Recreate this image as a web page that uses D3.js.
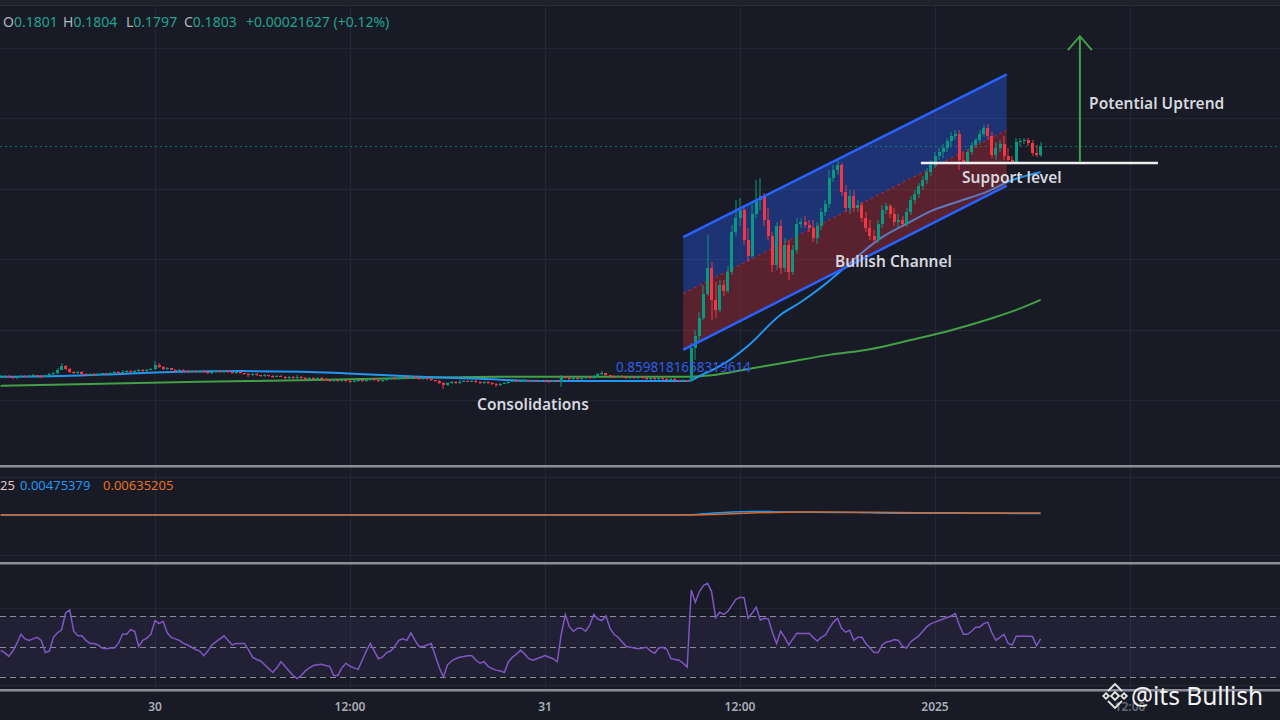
<!DOCTYPE html>
<html><head><meta charset="utf-8">
<script src="https://cdn.jsdelivr.net/npm/d3@7"></script>
<style>html,body{margin:0;padding:0;background:#181a25;}svg{display:block}</style>
</head><body>
<svg id="c" width="1280" height="720"></svg>
<script>
// ---------- DATA (prices in units of 0.0001) ----------
const barStart = Date.UTC(2024, 11, 29, 14, 30);   // first 15-minute bar
const barMinutes = 15;

const opens = [
1532,1533,1534,1533,1531,1533,1534,1533,1534,1535,
1534,1533,1535,1537,1538,1543,1548,1544,1540,1538,
1540,1537,1535,1537,1535,1537,1538,1537,1538,1540,
1538,1540,1541,1540,1541,1543,1541,1543,1544,1550,
1547,1544,1545,1543,1541,1543,1541,1540,1541,1540,
1541,1540,1538,1540,1541,1540,1541,1540,1538,1540,
1538,1537,1535,1537,1535,1534,1535,1534,1533,1534,
1533,1531,1533,1531,1533,1531,1530,1531,1530,1531,
1530,1528,1527,1528,1527,1528,1527,1526,1527,1528,
1527,1528,1530,1528,1527,1528,1530,1531,1530,1531,
1533,1531,1533,1531,1530,1531,1530,1528,1527,1524,
1521,1524,1526,1524,1526,1527,1526,1527,1526,1524,
1526,1524,1523,1521,1523,1524,1526,1527,1526,1527,
1528,1527,1528,1527,1528,1527,1526,1527,1526,1533,
1531,1530,1531,1530,1531,1533,1531,1534,1537,1538,
1535,1534,1533,1534,1533,1531,1533,1531,1533,1531,
1530,1531,1530,1531,1530,1528,1530,1528,1527,1528,
1527,1574,1591,1616,1650,1687,1642,1628,1663,1655,
1682,1738,1758,1769,1727,1704,1764,1784,1789,1755,
1733,1691,1747,1687,1720,1682,1713,1750,1752,1748,
1744,1730,1747,1767,1778,1815,1826,1833,1795,1772,
1789,1772,1777,1758,1744,1733,1727,1750,1769,1775,
1764,1752,1755,1750,1767,1784,1792,1804,1812,1823,
1833,1846,1852,1857,1867,1874,1877,1840,1838,1852,
1862,1869,1877,1886,1874,1848,1857,1863,1846,1840,
1838,1866,1867,1869,1865,1850,1848];

const highs = [
1535,1535,1535,1534,1534,1536,1535,1535,1537,1536,
1535,1536,1538,1540,1545,1552,1549,1545,1541,1541,
1541,1538,1538,1538,1539,1539,1539,1540,1541,1541,
1542,1542,1542,1543,1544,1544,1544,1546,1555,1552,
1548,1547,1546,1544,1544,1544,1542,1542,1542,1543,
1542,1541,1541,1543,1542,1542,1542,1541,1541,1541,
1539,1538,1538,1538,1536,1537,1536,1535,1535,1535,
1534,1534,1534,1535,1534,1532,1533,1532,1532,1532,
1531,1529,1530,1529,1529,1529,1528,1528,1530,1529,
1529,1531,1531,1529,1529,1531,1533,1532,1532,1534,
1534,1535,1534,1532,1532,1532,1531,1529,1528,1525,
1525,1527,1527,1528,1528,1528,1528,1528,1527,1527,
1527,1525,1524,1524,1526,1527,1528,1528,1529,1530,
1529,1529,1529,1529,1529,1528,1528,1528,1535,1534,
1532,1533,1532,1532,1534,1534,1535,1539,1541,1539,
1536,1535,1535,1535,1534,1534,1534,1534,1534,1532,
1533,1532,1532,1532,1531,1531,1531,1529,1530,1529,
1581,1599,1625,1663,1734,1696,1667,1670,1670,1690,
1748,1784,1787,1777,1744,1777,1812,1815,1794,1772,
1738,1752,1755,1730,1727,1720,1758,1758,1761,1755,
1755,1752,1772,1784,1826,1833,1840,1836,1805,1798,
1798,1784,1781,1767,1755,1741,1755,1777,1779,1778,
1772,1764,1761,1772,1789,1798,1808,1818,1829,1840,
1852,1857,1863,1872,1880,1883,1883,1852,1855,1866,
1872,1883,1890,1891,1880,1866,1869,1874,1857,1846,
1872,1872,1872,1872,1869,1862,1866];

const lows = [
1531,1532,1532,1530,1530,1532,1532,1532,1533,1533,
1531,1532,1534,1536,1537,1542,1542,1539,1537,1537,
1536,1534,1534,1534,1534,1536,1536,1536,1537,1537,
1537,1539,1539,1539,1540,1540,1540,1542,1543,1546,
1543,1543,1542,1540,1540,1540,1539,1539,1539,1539,
1538,1537,1537,1539,1539,1539,1538,1537,1537,1537,
1535,1533,1534,1534,1533,1533,1533,1531,1532,1532,
1530,1530,1530,1530,1530,1528,1529,1529,1529,1528,
1527,1525,1526,1526,1526,1525,1524,1525,1526,1526,
1526,1527,1527,1525,1526,1527,1529,1529,1529,1530,
1530,1530,1530,1528,1529,1529,1527,1525,1522,1516,
1520,1523,1523,1523,1525,1525,1525,1524,1522,1523,
1523,1521,1519,1520,1522,1523,1525,1525,1525,1526,
1526,1526,1525,1526,1526,1524,1525,1525,1518,1530,
1529,1529,1529,1529,1530,1530,1530,1533,1536,1534,
1533,1531,1532,1532,1530,1530,1530,1530,1530,1528,
1529,1529,1529,1528,1527,1527,1527,1525,1526,1525,
1526,1557,1582,1613,1648,1613,1616,1625,1648,1652,
1677,1733,1747,1720,1696,1701,1758,1769,1747,1727,
1682,1684,1679,1682,1670,1677,1707,1744,1744,1738,
1724,1721,1741,1761,1772,1809,1819,1789,1767,1764,
1767,1767,1752,1738,1727,1721,1723,1744,1764,1758,
1747,1744,1745,1745,1762,1778,1787,1798,1806,1818,
1829,1840,1843,1852,1860,1869,1826,1835,1833,1848,
1857,1865,1873,1869,1843,1840,1852,1840,1836,1835,
1835,1860,1863,1860,1846,1845,1845];

const closes = [
1533,1534,1533,1531,1533,1534,1533,1534,1535,1534,
1533,1535,1537,1538,1543,1548,1544,1540,1538,1540,
1537,1535,1537,1535,1537,1538,1537,1538,1540,1538,
1540,1541,1540,1541,1543,1541,1543,1544,1550,1547,
1544,1545,1543,1541,1543,1541,1540,1541,1540,1541,
1540,1538,1540,1541,1540,1541,1540,1538,1540,1538,
1537,1535,1537,1535,1534,1535,1534,1533,1534,1533,
1531,1533,1531,1533,1531,1530,1531,1530,1531,1530,
1528,1527,1528,1527,1528,1527,1526,1527,1528,1527,
1528,1530,1528,1527,1528,1530,1531,1530,1531,1533,
1531,1533,1531,1530,1531,1530,1528,1527,1524,1521,
1524,1526,1524,1526,1527,1526,1527,1526,1524,1526,
1524,1523,1521,1523,1524,1526,1527,1526,1527,1528,
1527,1528,1527,1528,1527,1526,1527,1526,1533,1531,
1530,1531,1530,1531,1533,1531,1534,1537,1538,1535,
1534,1533,1534,1533,1531,1533,1531,1533,1531,1530,
1531,1530,1531,1530,1528,1530,1528,1527,1528,1527,
1574,1591,1616,1650,1687,1642,1628,1663,1655,1682,
1738,1758,1769,1727,1704,1764,1784,1789,1755,1733,
1691,1747,1687,1720,1682,1713,1750,1752,1748,1744,
1730,1747,1767,1778,1815,1826,1833,1795,1772,1789,
1772,1777,1758,1744,1733,1727,1750,1769,1775,1764,
1752,1755,1750,1767,1784,1792,1804,1812,1823,1833,
1846,1852,1857,1867,1874,1877,1840,1838,1852,1862,
1869,1877,1886,1874,1848,1857,1863,1846,1840,1838,
1866,1867,1869,1865,1850,1848,1860];

// moving averages: [bar index, price]
const fastMA = [[0,1533],[15,1534],[30,1537],[44,1540],[59,1541],[74,1540],[88,1537],[103,1533],[118,1530],[133,1527],[148,1527],[162,1527],[169,1527],[170,1528],[172,1534],[176,1545],[179,1555],[184,1577],[192,1621],[197,1639],[202,1660],[207,1684],[212,1709],[217,1731],[223,1750],[229,1768],[236,1782],[243,1796],[249,1812],[253,1819],[256,1823]];
const slowMA = [[0,1520],[25,1523],[49,1526],[74,1528],[98,1531],[123,1533],[148,1533],[170,1533],[175,1535],[184,1544],[194,1554],[204,1564],[214,1572],[224,1585],[234,1599],[244,1616],[251,1630],[256,1642]];

// RSI per bar
const rsi = [
47.5,46,43.5,47,52,58,55,54,55,56,54,46,47,56,59,61,72,74,60,57,
57,54,52,52,51,49,48.5,49,49,52,58,58,61,60,50,54,55.5,58,67,65,
66.5,59,56,55,54,52,51,49.5,48,47,44,47,51,53,55,57,54,51,52,52,
52,48,43,41.5,40.5,38,35.5,33,36,40,37,34,31,29,31,34,36,37.5,38,38.4,
37.5,37,31,31,36,39,37,36,35,41,47,52,47,42,43,46,47,50,54,55,
54,59,54,50,50,51,52,44,36,30,38,40.5,42,43,43.5,44,44,41,39,40,
37,35.5,34.5,34,33,40,43,45,47.6,45,42,41,42,43,44,43,42,40,58,71,
63,60,62,62,60,64,71,68,67,70,62,58,56,53,50,49.5,49,48.5,49,49.5,
47,45.6,49,49.5,48,42,41.5,41,39,36.5,87,79,86,90,91.5,86,69,72.5,71,73,
77,81,82.3,82,68.5,72,75.8,67.2,68.5,68,59,52,60,56,51,55,58.7,58.5,58.5,58.7,
56,53.6,56,57.4,62,66,68.5,62,59.4,60.7,54,56,56,52,49,46,46,51,53,53.5,
54.5,54,50,49,53,55,57,60,63,65,66,67,68,69,70,71.5,64,58,58,60,
62.7,62.7,65,66,59,54,56,58,52,51,56.7,56.7,56.7,56.7,56.5,50.5,55];
const rsiLevels = [70, 50, 30];

// MACD (read as samples at bar indices)
const macdIdx  = [0,20,40,60,80,100,120,140,160,170,175,180,185,190,200,210,220,230,240,250,256];
const macdLine = [0.0001,0.0003,0.0004,0.0001,-0.0003,-0.0004,-0.0002,0.0001,0.0001,0.0010,0.0060,0.0100,0.0115,0.0110,0.0090,0.0080,0.0060,0.0060,0.0060,0.0050,0.00475379];
const signalLine = [0.0001,0.0002,0.0003,0.0002,-0.0001,-0.0003,-0.0003,0.0000,0.0001,0.0003,0.0015,0.0040,0.0065,0.0085,0.0095,0.0090,0.0080,0.0072,0.0068,0.0065,0.00635205];

// axes / grid
const priceGrid = [1500,1600,1700,1800,1900,2000];
const timeTickLabels = ["30","12:00","31","12:00","2025","12:00"];

// drawings
const channelTimes = [Date.UTC(2024,11,31,8,30), Date.UTC(2025,0,1,4,25)];
const channelUpper = [1731, 1962];
const channelLower = [1571, 1804];
const supportTimes = [Date.UTC(2024,11,31,23,8), Date.UTC(2025,0,1,13,43)];
const supportLevel = 1836;
const arrowTime = Date.UTC(2025,0,1,8,55);
const arrowPrices = [1838, 2016];
const annotations = [
  {text:"Potential Uptrend", t:Date.UTC(2025,0,1,9,29), p:1920, kind:"note"},
  {text:"Support level", t:Date.UTC(2025,0,1,1,40), p:1815, kind:"note"},
  {text:"Bullish Channel", t:Date.UTC(2024,11,31,17,51), p:1697, kind:"note"},
  {text:"Consolidations", t:Date.UTC(2024,11,30,19,49), p:1494, kind:"note"},
  {text:"0.8598181658319614", t:Date.UTC(2024,11,31,4,22), p:1547, kind:"value"}
];
const header = [["O","0.1801",3],["H","0.1804",63],["L","0.1797",126],["C","0.1803",184],["","+0.00021627 (+0.12%)",246]];

// ---------- DRAW ----------
const W = 1280, H = 720;
const svg = d3.select("#c");
const FONT = "'Noto Sans', 'Open Sans', sans-serif";
const barTime = i => new Date(barStart + i * barMinutes * 60000);

const x = d3.scaleUtc().domain([new Date(Date.UTC(2024,11,30)), new Date(Date.UTC(2025,0,1))]).range([155, 935]);
const y = d3.scaleLinear().domain([1500, 2000]).range([400, 47.5]);
const rsiY = d3.scaleLinear().domain([30, 70]).range([677, 616]);
const macdY = d3.scaleLinear().domain([-0.15, 0.15]).range([561, 469]);

svg.append("rect").attr("width", W).attr("height", H).attr("fill", "#181a25");
svg.append("rect").attr("width", W).attr("height", 5).attr("fill", "#1f222d");
svg.append("line").attr("x1",0).attr("x2",W).attr("y1",5.5).attr("y2",5.5).attr("stroke","#2a2d38");

const gridColor = "#232633";
const timeTicks = d3.utcHour.every(12).range(new Date(Date.UTC(2024,11,30)), new Date(Date.UTC(2025,0,1,13)));
const panes = [[6,465],[467,562],[564,689]];
const grid = svg.append("g");
panes.forEach(([a,b]) => {
  grid.selectAll(null).data(timeTicks).enter().append("line")
    .attr("x1", d => Math.round(x(d)) + 0.5).attr("x2", d => Math.round(x(d)) + 0.5)
    .attr("y1", a).attr("y2", b).attr("stroke", gridColor);
});
grid.selectAll(null).data(priceGrid).enter().append("line")
  .attr("x1", 0).attr("x2", W).attr("y1", d => Math.round(y(d)) + 0.5).attr("y2", d => Math.round(y(d)) + 0.5)
  .attr("stroke", gridColor);
[477, 555, 608, 685].forEach(v => grid.append("line").attr("x1",0).attr("x2",W).attr("y1",v+0.5).attr("y2",v+0.5).attr("stroke",gridColor));

// main pane
const main = svg.append("g");
svg.append("clipPath").attr("id","mainClip").append("rect").attr("x",0).attr("y",6).attr("width",W).attr("height",459);
main.attr("clip-path","url(#mainClip)");

const maLine = d3.line().x(d => x(barTime(d[0]))).y(d => y(d[1])).curve(d3.curveMonotoneX);
main.append("path").attr("d", maLine(slowMA)).attr("fill","none").attr("stroke","#43a047").attr("stroke-width",2);
main.append("path").attr("d", maLine(fastMA)).attr("fill","none").attr("stroke","#2196f3").attr("stroke-width",2);

// channel
const cx1 = x(new Date(channelTimes[0])), cx2 = x(new Date(channelTimes[1]));
const mid = [(channelUpper[0]+channelLower[0])/2, (channelUpper[1]+channelLower[1])/2];
main.append("path").attr("d", `M${cx1},${y(channelUpper[0])}L${cx2},${y(channelUpper[1])}L${cx2},${y(mid[1])}L${cx1},${y(mid[0])}Z`)
  .attr("fill","rgba(41,98,255,0.36)");
main.append("path").attr("d", `M${cx1},${y(mid[0])}L${cx2},${y(mid[1])}L${cx2},${y(channelLower[1])}L${cx1},${y(channelLower[0])}Z`)
  .attr("fill","rgba(242,54,69,0.3)");
main.append("line").attr("x1",cx1).attr("y1",y(mid[0])).attr("x2",cx2).attr("y2",y(mid[1]))
  .attr("stroke","#f23645").attr("stroke-opacity",0.6).attr("stroke-dasharray","3,3");

// last price line
const lastY = Math.round(y(closes[closes.length-1])) + 0.5;
main.append("line").attr("x1",0).attr("x2",W).attr("y1",lastY).attr("y2",lastY)
  .attr("stroke","#089981").attr("stroke-opacity",0.7).attr("stroke-dasharray","2,3");

// candles
const up = "#089981", down = "#f23645";
const cg = main.append("g");
closes.forEach((c, i) => {
  const o = opens[i], h = highs[i], l = lows[i];
  const cx = x(barTime(i));
  const col = c >= o ? up : down;
  const yh = Math.round(y(h)), yl = Math.round(y(l));
  cg.append("rect").attr("x", Math.round(cx) - 0.5).attr("y", yh).attr("width", 1).attr("height", Math.max(1, yl - yh)).attr("fill", col);
  const yt = Math.round(y(Math.max(o, c))), yb = Math.round(y(Math.min(o, c)));
  cg.append("rect").attr("x", Math.round(cx - 1.5)).attr("y", yt).attr("width", 3).attr("height", Math.max(1, yb - yt)).attr("fill", col);
});

// channel borders
main.append("line").attr("x1",cx1).attr("y1",y(channelUpper[0])).attr("x2",cx2).attr("y2",y(channelUpper[1]))
  .attr("stroke","#2962ff").attr("stroke-width",2.5);
main.append("line").attr("x1",cx1).attr("y1",y(channelLower[0])).attr("x2",cx2).attr("y2",y(channelLower[1]))
  .attr("stroke","#2962ff").attr("stroke-width",2.5);

// support level
main.append("line").attr("x1", x(new Date(supportTimes[0]))).attr("x2", x(new Date(supportTimes[1])))
  .attr("y1", y(supportLevel)).attr("y2", y(supportLevel)).attr("stroke","#eeeeee").attr("stroke-width",2.5);

// arrow
const ax = x(new Date(arrowTime)), ay0 = y(arrowPrices[0]), ay1 = y(arrowPrices[1]);
main.append("line").attr("x1",ax).attr("x2",ax).attr("y1",ay0).attr("y2",ay1).attr("stroke","#43a047").attr("stroke-width",2);
main.append("path").attr("d",`M${ax-12},${ay1+14}L${ax},${ay1}L${ax+12},${ay1+14}`).attr("fill","none")
  .attr("stroke","#43a047").attr("stroke-width",2);

// annotation texts
annotations.forEach(a => {
  const note = a.kind === "note";
  main.append("text").attr("x", x(new Date(a.t))).attr("y", y(a.p)).attr("dy","0.35em")
    .attr("fill", note ? "#d6d8df" : "#2e5fe6").attr("font-family", FONT).attr("font-size", note ? 15.5 : 13.5)
    .attr("font-weight", note ? 600 : 400).text(a.text);
});

// header
header.forEach(([k, v, px]) => {
  const t = svg.append("text").attr("x", px).attr("y", 22).attr("dy","0.35em").attr("font-family", FONT).attr("font-size", 14);
  if (k) t.append("tspan").attr("fill","#b2b5be").text(k);
  t.append("tspan").attr("fill","#22a391").text(v);
});

// separators
[465, 562, 689].forEach(v => {
  svg.append("rect").attr("x",0).attr("y",v).attr("width",W).attr("height",2.5).attr("fill","#8b8e98");
});

// MACD pane
const macdData = macdIdx.map((d,k) => [d, macdLine[k], signalLine[k]]);
const mline = k => d3.line().x(d => x(barTime(d[0]))).y(d => macdY(d[k])).curve(d3.curveMonotoneX);
svg.append("path").attr("d", mline(1)(macdData)).attr("fill","none").attr("stroke","#2196f3").attr("stroke-width",1.5);
svg.append("path").attr("d", mline(2)(macdData)).attr("fill","none").attr("stroke","#d9692a").attr("stroke-width",1.5);
const macdLabel = [["25","#e9c4c4",0],[macdLine[macdLine.length-1].toFixed(8),"#2196f3",20],[signalLine[signalLine.length-1].toFixed(8),"#e8711e",103]];
macdLabel.forEach(([t,c,px]) => svg.append("text").attr("x", px).attr("y", 485).attr("dy","0.35em")
  .attr("font-family", FONT).attr("font-size", 13).attr("fill", c).text(t));

// RSI pane
svg.append("rect").attr("x",0).attr("width",W).attr("y", rsiY(70)).attr("height", rsiY(30) - rsiY(70)).attr("fill","rgba(126,87,194,0.1)");
rsiLevels.forEach(v => svg.append("line").attr("x1",0).attr("x2",W).attr("y1",Math.round(rsiY(v))+0.5).attr("y2",Math.round(rsiY(v))+0.5)
  .attr("stroke","#8a8d96").attr("stroke-dasharray","6,4"));
svg.append("path").attr("d", d3.line().x((d,i) => x(barTime(i))).y(d => rsiY(d))(rsi))
  .attr("fill","none").attr("stroke","#7e57c2").attr("stroke-width",1.5);

// time axis labels
svg.selectAll(null).data(timeTicks).enter().append("text")
  .attr("x", d => x(d)).attr("y", 707).attr("dy","0.35em").attr("text-anchor","middle")
  .attr("font-family", FONT).attr("font-size", 12).attr("font-weight", 600).attr("fill","#a9acb6")
  .attr("opacity", (d,i) => i === 5 ? 0.55 : 1)
  .text((d,i) => timeTickLabels[i]);

// watermark
const wm = svg.append("g").attr("fill","none").attr("stroke","#e6e6e6").attr("stroke-width",1.8);
const diamond = (cx, cy, r) => `M${cx},${cy-r}L${cx+r},${cy}L${cx},${cy+r}L${cx-r},${cy}Z`;
wm.append("path").attr("d", diamond(1115,696,4));
wm.append("path").attr("d", diamond(1106,696,2.8));
wm.append("path").attr("d", diamond(1124,696,2.8));
wm.append("path").attr("d", "M1108,691L1115,684L1122,691");
wm.append("path").attr("d", "M1108,701L1115,708L1122,701");
svg.append("text").attr("x", 1131).attr("y", 696).attr("dy","0.35em").attr("font-family", FONT)
  .attr("font-size", 24.5).attr("fill","#f2f2f2").text("@its Bullish");
</script>
</body></html>
